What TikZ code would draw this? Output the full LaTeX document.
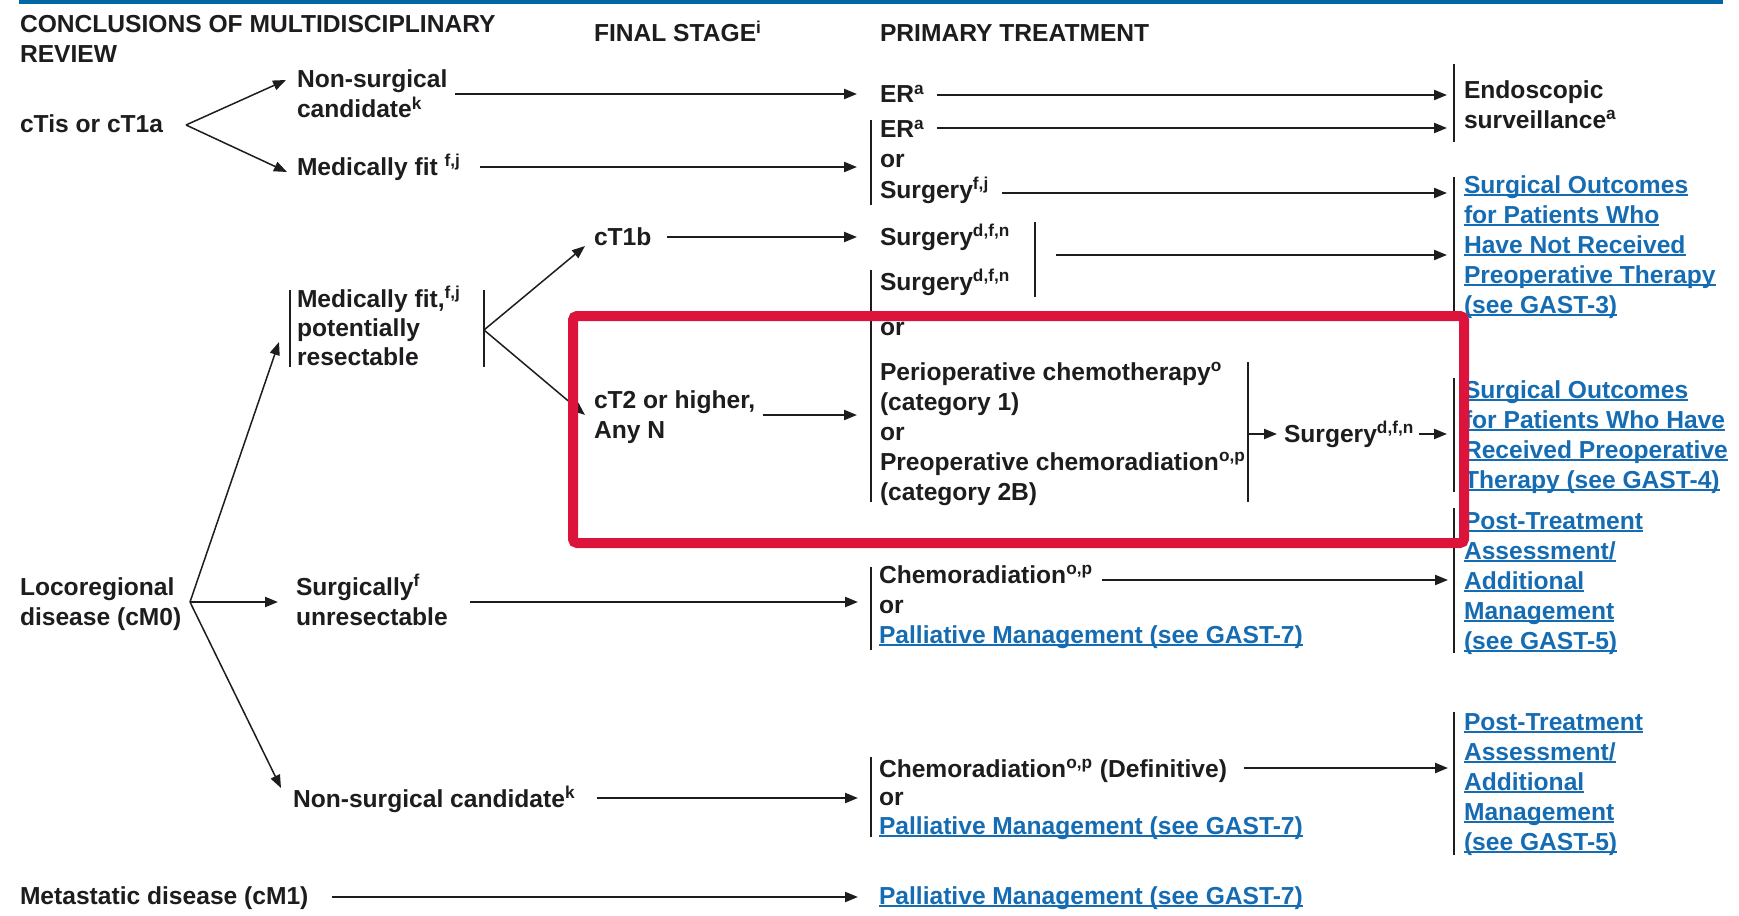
\documentclass[tikz,border=0pt]{standalone}
\usepackage{fontspec}
\setmainfont{Liberation Sans}
\usetikzlibrary{arrows.meta}
\definecolor{ink}{RGB}{30,28,30}
\definecolor{nccnblue}{RGB}{0,103,164}
\definecolor{linkblue}{RGB}{22,108,178}
\definecolor{redbox}{RGB}{220,20,60}
\newsavebox{\lnkbox}
\newcommand{\lnk}[1]{\sbox{\lnkbox}{\color{linkblue}#1}{\color{linkblue}\rlap{\rule[-1.4pt]{\wd\lnkbox}{0.8pt}}\usebox{\lnkbox}}}
\newcommand{\sups}[1]{\textsuperscript{#1}}
\begin{document}
\begin{tikzpicture}[x=0.5pt,y=-0.5pt,
  every node/.style={inner sep=0pt,outer sep=0pt,anchor=base west,align=left,
    font=\fontsize{12.3pt}{15pt}\selectfont\bfseries,text=ink},
  arr/.style={draw=ink,line width=1.1pt,-{Triangle[length=6.5pt,width=5pt]}},
  thinarr/.style={draw=ink,line width=0.75pt,-{Triangle[length=6.5pt,width=5pt]}},
  bar/.style={draw=ink,line width=1.3pt}]
\useasboundingbox (0,0) rectangle (1739,915);
\fill[nccnblue] (19,0) rectangle (1723,4);

% ---------- texts (multi-line nodes are placed at the baseline of their last line) ----------
\node (hdrA) at (20,63) {CONCLUSIONS OF MULTIDISCIPLINARY\\REVIEW};
\node (hdrB) at (594,42) {FINAL STAGE\sups{i}};
\node (hdrC) at (880,42) {PRIMARY TREATMENT};

\node (ctis) at (20,133) {cTis or cT1a};
\node (nsc1) at (297,118) {Non-surgical\\candidate\sups{k}};
\node (mfit1) at (297,175) {Medically fit \sups{f,j}};
\node (er1) at (880,103) {ER\sups{a}};
\node (er2) at (880,198) {ER\sups{a}\\or\\Surgery\sups{f,j}};
\node (endo) at (1464,128) {Endoscopic\\surveillance\sups{a}};
\node (so1) at (1464,313) {\lnk{Surgical Outcomes}\\\lnk{for Patients Who}\\\lnk{Have Not Received}\\\lnk{Preoperative Therapy}\\\lnk{(see GAST-3)}};

\node (mfit2) at (297,365) {Medically fit,\sups{f,j}\\[-0.5pt]potentially\\[-0.5pt]resectable};
\node (ct1b) at (594,245) {cT1b};
\node (surg1) at (880,245) {Surgery\sups{d,f,n}};
\node (surg2) at (880,290) {Surgery\sups{d,f,n}};
\node (or1) at (880,335) {or};
\node (perio) at (880,500) {Perioperative chemotherapy\sups{o}\\(category 1)\\or\\Preoperative chemoradiation\sups{o,p}\\(category 2B)};
\node (ct2) at (594,438) {cT2 or higher,\\Any N};
\node (surg3) at (1284,442) {Surgery\sups{d,f,n}};
\node (so2) at (1464,488) {\lnk{Surgical Outcomes}\\\lnk{for Patients Who Have}\\\lnk{Received Preoperative}\\\lnk{Therapy (see GAST-4)}};

\node (loco) at (20,625) {Locoregional\\disease (cM0)};
\node (unres) at (296,625) {Surgically\sups{f}\\unresectable};
\node (chemo1) at (879,643) {Chemoradiation\sups{o,p}\\or\\\lnk{Palliative Management (see GAST-7)}};
\node (pt1) at (1464,649) {\lnk{Post-Treatment}\\\lnk{Assessment/}\\\lnk{Additional}\\\lnk{Management}\\\lnk{(see GAST-5)}};

\node (nsc2) at (293,807) {Non-surgical candidate\sups{k}};
\node (chemo2) at (879,834) {Chemoradiation\sups{o,p} (Definitive)\\[-1pt]or\\[-0.5pt]\lnk{Palliative Management (see GAST-7)}};
\node (pt2) at (1464,850) {\lnk{Post-Treatment}\\\lnk{Assessment/}\\\lnk{Additional}\\\lnk{Management}\\\lnk{(see GAST-5)}};

\node (meta) at (20,904) {Metastatic disease (cM1)};
\node (pal3) at (879,904) {\lnk{Palliative Management (see GAST-7)}};

% ---------- bars ----------
\coordinate (endoT) at (1454,64);   \coordinate (endoB) at (1454,142);
\coordinate (erT) at (871,120);     \coordinate (erB) at (871,205);
\coordinate (so1T) at (1454,177);   \coordinate (so1B) at (1454,321);
\coordinate (mfL1) at (290,290);    \coordinate (mfL2) at (290,367);
\coordinate (mfR1) at (484,290);    \coordinate (mfR2) at (484,367);
\coordinate (s1R1) at (1035,222);   \coordinate (s1R2) at (1035,297);
\coordinate (s2L1) at (871,270);    \coordinate (s2L2) at (871,502);
\coordinate (peR1) at (1248,362);   \coordinate (peR2) at (1248,502);
\coordinate (so2T) at (1454,378);   \coordinate (so2B) at (1454,492);
\coordinate (pt1T) at (1454,508);   \coordinate (pt1B) at (1454,653);
\coordinate (c1T) at (871,567);     \coordinate (c1B) at (871,650);
\coordinate (c2T) at (871,757);     \coordinate (c2B) at (871,837);
\coordinate (pt2T) at (1454,712);   \coordinate (pt2B) at (1454,855);
\foreach \a/\b in {endoT/endoB,erT/erB,so1T/so1B,mfL1/mfL2,mfR1/mfR2,s1R1/s1R2,
  s2L1/s2L2,peR1/peR2,so2T/so2B,pt1T/pt1B,c1T/c1B,c2T/c2B,pt2T/pt2B}
  \draw[bar] (\a) -- (\b);

% ---------- connector points ----------
\coordinate (v1) at (186,125);
\coordinate (v2) at (484,330);
\coordinate (v3) at (190,602);
\coordinate (nsc1in) at (286,80);  \coordinate (mfit1in) at (287,172);
\coordinate (nsc1out) at (455,94); \coordinate (er1in) at (857,94);
\coordinate (er1out) at (937,95);  \coordinate (endoin1) at (1447,95);
\coordinate (er2out) at (937,128); \coordinate (endoin2) at (1447,128);
\coordinate (mfit1out) at (480,167); \coordinate (er2in) at (857,167);
\coordinate (sfjout) at (1002,193); \coordinate (so1in1) at (1447,193);
\coordinate (ct1bin) at (585,246); \coordinate (ct2in) at (585,415);
\coordinate (ct1bout) at (667,237); \coordinate (surg1in) at (857,237);
\coordinate (s1out) at (1056,255); \coordinate (so1in2) at (1447,255);
\coordinate (ct2out) at (763,415); \coordinate (perioin) at (857,415);
\coordinate (perioout) at (1248,434); \coordinate (surg3in) at (1277,434);
\coordinate (surg3out) at (1419,434); \coordinate (so2in) at (1447,434);
\coordinate (mfit2in) at (279,342); \coordinate (unresin) at (278,602);
\coordinate (nsc2in) at (281,788);
\coordinate (unresout) at (470,602); \coordinate (c1in) at (858,602);
\coordinate (c1out) at (1102,580); \coordinate (pt1in) at (1448,580);
\coordinate (nsc2out) at (597,798); \coordinate (c2in) at (858,798);
\coordinate (c2out) at (1244,768); \coordinate (pt2in) at (1448,768);
\coordinate (metaout) at (332,897); \coordinate (pal3in) at (858,897);

\draw[thinarr] (v1) -- (nsc1in);
\draw[thinarr] (v1) -- (mfit1in);
\draw[arr] (nsc1out) -- (er1in);
\draw[arr] (er1out) -- (endoin1);
\draw[arr] (er2out) -- (endoin2);
\draw[arr] (mfit1out) -- (er2in);
\draw[arr] (sfjout) -- (so1in1);
\draw[thinarr] (v2) -- (ct1bin);
\draw[thinarr] (v2) -- (ct2in);
\draw[arr] (ct1bout) -- (surg1in);
\draw[arr] (s1out) -- (so1in2);
\draw[arr] (ct2out) -- (perioin);
\draw[arr] (perioout) -- (surg3in);
\draw[arr] (surg3out) -- (so2in);
\draw[thinarr] (v3) -- (mfit2in);
\draw[arr] (v3) -- (unresin);
\draw[thinarr] (v3) -- (nsc2in);
\draw[arr] (unresout) -- (c1in);
\draw[arr] (c1out) -- (pt1in);
\draw[arr] (nsc2out) -- (c2in);
\draw[arr] (c2out) -- (pt2in);
\draw[arr] (metaout) -- (pal3in);

% ---------- highlight box ----------
\draw[redbox,line width=5pt,rounded corners=2pt] (573,316) rectangle (1464,543);
\end{tikzpicture}
\end{document}
